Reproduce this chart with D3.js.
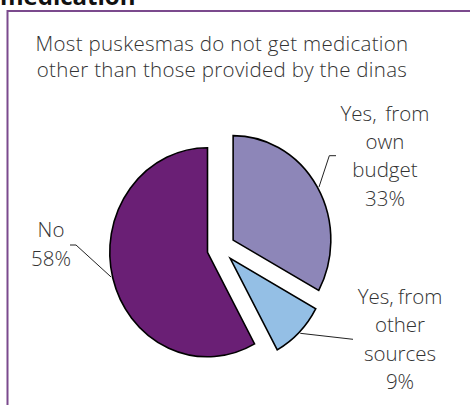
<!DOCTYPE html>
<html><head><meta charset="utf-8">
<script src="https://cdn.jsdelivr.net/npm/d3@7"></script>
<style>
html,body{margin:0;padding:0;background:#fff;}
text{font-family:"Open Sans",sans-serif;}
</style></head>
<body>
<svg id="c" width="470" height="405"></svg>
<script>
// ---- data ----
const categories = ["Yes, from own budget", "Yes, from other sources", "No"];
const values = [33, 9, 58];
const labelLines = [["Yes,  from", "own", "budget"], ["Yes, from", "other", "sources"], ["No"]];
const colors = ["#8d86b8", "#94bfe5", "#6a1f75"];
const titleText = "medication";
const subtitleLines = ["Most puskesmas do not get medication", "other than those provided by the dinas"];

// ---- style / layout ----
const W = 470, H = 405;
const cx = 207.5, cy = 252.3, r = 104.5, sx = 0.935;
const explodeDist = [30, 25, 0];
const explodeDir = [66, 104, 0];          // degrees clockwise from top
const labelPos = [[385, 120.7], [400, 304], [51, 237.3]];
const lineH = 28.3;
const leaderAngle = [60, 135, 256.5];
const leaderElbow = [[[336, 155.7], [329.3, 155.7]], [[353, 339.3]], [[70, 245], [76, 245]]];

const svg = d3.select("#c");

// title (cut off at top)
svg.append("text").attr("x", 0).attr("y", 4.5)
  .attr("font-size", 24).attr("font-weight", 700).attr("fill", "#111")
  .text(titleText);

// frame
svg.append("rect").attr("x", 7.5).attr("y", 11).attr("width", 500).attr("height", 450)
  .attr("fill", "none").attr("stroke", "#7b4a8d").attr("stroke-width", 2);

// subtitle
svg.append("g").selectAll("text").data(subtitleLines).join("text")
  .attr("x", 222).attr("y", (d, i) => 50.7 + i * 26)
  .attr("text-anchor", "middle").attr("font-size", 20.5).attr("font-weight", 300)
  .attr("letter-spacing", 0.3)
  .attr("fill", "#333").text(d => d);

const pie = d3.pie().sort(null).value(d => d)(values);
const arc = d3.arc().innerRadius(0).outerRadius(r);

function offset(i) {
  const a = explodeDir[i] * Math.PI / 180;
  return [cx + explodeDist[i] * Math.sin(a) * sx, cy - explodeDist[i] * Math.cos(a)];
}

const g = svg.append("g");
g.selectAll("path").data(pie).join("path")
  .attr("transform", (d, i) => { const o = offset(i); return `translate(${o[0]},${o[1]}) scale(${sx},1)`; })
  .attr("d", arc)
  .attr("fill", (d, i) => colors[i])
  .attr("stroke", "#000").attr("stroke-width", 1.6)
  .attr("vector-effect", "non-scaling-stroke")
  .attr("stroke-linejoin", "miter");

// leader lines
pie.forEach((d, i) => {
  const o = offset(i);
  const a = leaderAngle[i] * Math.PI / 180;
  const rr = r + 1.5;
  const p = [o[0] + rr * Math.sin(a) * sx, o[1] - rr * Math.cos(a)];
  const pts = leaderElbow[i].slice();
  pts.push(p);
  svg.append("path").attr("d", d3.line()(pts))
    .attr("fill", "none").attr("stroke", "#222").attr("stroke-width", 1);
});

// labels
pie.forEach((d, i) => {
  const lines = labelLines[i].concat([values[i] + "%"]);
  svg.append("g").selectAll("text").data(lines).join("text")
    .attr("x", labelPos[i][0])
    .attr("y", (t, j) => labelPos[i][1] + j * lineH)
    .attr("text-anchor", "middle").attr("font-size", 20.5).attr("font-weight", 300)
    .attr("word-spacing", -1)
    .attr("fill", "#333").style("white-space", "pre").text(t => t);
});
</script>
</body></html>
